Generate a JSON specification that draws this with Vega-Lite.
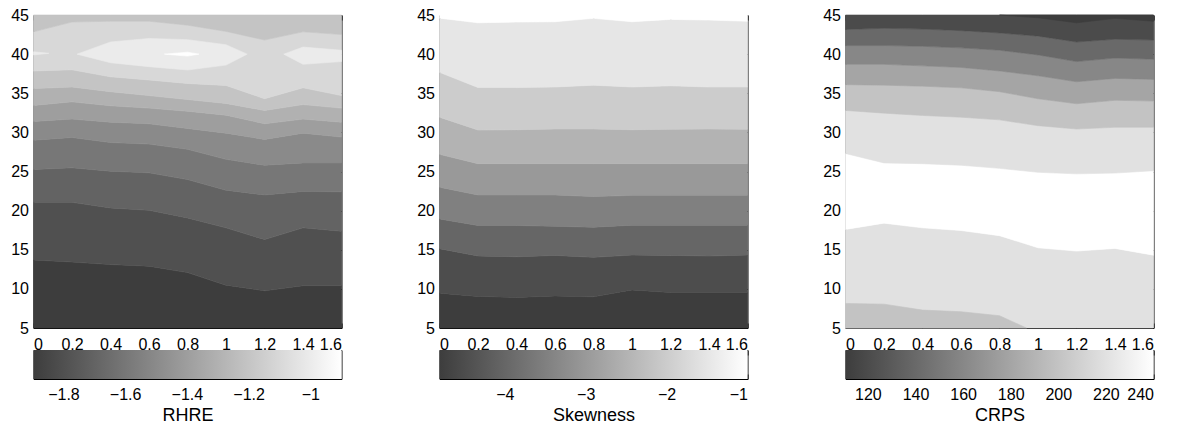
{
  "$schema": "https://vega.github.io/schema/vega-lite/v6.json",
  "padding": {"left": 9.5, "top": 6, "right": 5, "bottom": 2},
  "datasets": {
    "rhre": [
      {"b":"a1","k":"base","v":-1.897,"x":0,"lo":5,"hi":13.69},{"b":"a1","k":"base","v":-1.897,"x":0.2,"lo":5,"hi":13.43},{"b":"a1","k":"base","v":-1.897,"x":0.4,"lo":5,"hi":13.1},{"b":"a1","k":"base","v":-1.897,"x":0.6,"lo":5,"hi":12.9},{"b":"a1","k":"base","v":-1.897,"x":0.8,"lo":5,"hi":12.08},{"b":"a1","k":"base","v":-1.897,"x":1,"lo":5,"hi":10.47},{"b":"a1","k":"base","v":-1.897,"x":1.2,"lo":5,"hi":9.75},{"b":"a1","k":"base","v":-1.897,"x":1.4,"lo":5,"hi":10.4},{"b":"a1","k":"base","v":-1.897,"x":1.6,"lo":5,"hi":10.4},
      {"b":"a2","k":"base","v":-1.8,"x":0,"lo":13.69,"hi":21.06},{"b":"a2","k":"base","v":-1.8,"x":0.2,"lo":13.43,"hi":21.06},{"b":"a2","k":"base","v":-1.8,"x":0.4,"lo":13.1,"hi":20.34},{"b":"a2","k":"base","v":-1.8,"x":0.6,"lo":12.9,"hi":20.04},{"b":"a2","k":"base","v":-1.8,"x":0.8,"lo":12.08,"hi":19.07},{"b":"a2","k":"base","v":-1.8,"x":1,"lo":10.47,"hi":17.8},{"b":"a2","k":"base","v":-1.8,"x":1.2,"lo":9.75,"hi":16.3},{"b":"a2","k":"base","v":-1.8,"x":1.4,"lo":10.4,"hi":17.8},{"b":"a2","k":"base","v":-1.8,"x":1.6,"lo":10.4,"hi":17.37},
      {"b":"a3","k":"base","v":-1.7,"x":0,"lo":21.06,"hi":25.26},{"b":"a3","k":"base","v":-1.7,"x":0.2,"lo":21.06,"hi":25.47},{"b":"a3","k":"base","v":-1.7,"x":0.4,"lo":20.34,"hi":25.04},{"b":"a3","k":"base","v":-1.7,"x":0.6,"lo":20.04,"hi":24.83},{"b":"a3","k":"base","v":-1.7,"x":0.8,"lo":19.07,"hi":23.97},{"b":"a3","k":"base","v":-1.7,"x":1,"lo":17.8,"hi":22.6},{"b":"a3","k":"base","v":-1.7,"x":1.2,"lo":16.3,"hi":22.0},{"b":"a3","k":"base","v":-1.7,"x":1.4,"lo":17.8,"hi":22.46},{"b":"a3","k":"base","v":-1.7,"x":1.6,"lo":17.37,"hi":22.4},
      {"b":"a4","k":"base","v":-1.6,"x":0,"lo":25.26,"hi":29.0},{"b":"a4","k":"base","v":-1.6,"x":0.2,"lo":25.47,"hi":29.35},{"b":"a4","k":"base","v":-1.6,"x":0.4,"lo":25.04,"hi":28.7},{"b":"a4","k":"base","v":-1.6,"x":0.6,"lo":24.83,"hi":28.5},{"b":"a4","k":"base","v":-1.6,"x":0.8,"lo":23.97,"hi":27.84},{"b":"a4","k":"base","v":-1.6,"x":1,"lo":22.6,"hi":26.55},{"b":"a4","k":"base","v":-1.6,"x":1.2,"lo":22.0,"hi":25.8},{"b":"a4","k":"base","v":-1.6,"x":1.4,"lo":22.46,"hi":26.1},{"b":"a4","k":"base","v":-1.6,"x":1.6,"lo":22.4,"hi":26.1},
      {"b":"a5","k":"base","v":-1.5,"x":0,"lo":29.0,"hi":31.4},{"b":"a5","k":"base","v":-1.5,"x":0.2,"lo":29.35,"hi":31.7},{"b":"a5","k":"base","v":-1.5,"x":0.4,"lo":28.7,"hi":31.3},{"b":"a5","k":"base","v":-1.5,"x":0.6,"lo":28.5,"hi":31.1},{"b":"a5","k":"base","v":-1.5,"x":0.8,"lo":27.84,"hi":30.5},{"b":"a5","k":"base","v":-1.5,"x":1,"lo":26.55,"hi":29.9},{"b":"a5","k":"base","v":-1.5,"x":1.2,"lo":25.8,"hi":29.1},{"b":"a5","k":"base","v":-1.5,"x":1.4,"lo":26.1,"hi":29.9},{"b":"a5","k":"base","v":-1.5,"x":1.6,"lo":26.1,"hi":29.4},
      {"b":"a6","k":"base","v":-1.4,"x":0,"lo":31.4,"hi":33.45},{"b":"a6","k":"base","v":-1.4,"x":0.2,"lo":31.7,"hi":33.9},{"b":"a6","k":"base","v":-1.4,"x":0.4,"lo":31.3,"hi":33.4},{"b":"a6","k":"base","v":-1.4,"x":0.6,"lo":31.1,"hi":33.1},{"b":"a6","k":"base","v":-1.4,"x":0.8,"lo":30.5,"hi":32.7},{"b":"a6","k":"base","v":-1.4,"x":1,"lo":29.9,"hi":32.2},{"b":"a6","k":"base","v":-1.4,"x":1.2,"lo":29.1,"hi":31.1},{"b":"a6","k":"base","v":-1.4,"x":1.4,"lo":29.9,"hi":31.7},{"b":"a6","k":"base","v":-1.4,"x":1.6,"lo":29.4,"hi":31.3},
      {"b":"a7","k":"base","v":-1.3,"x":0,"lo":33.45,"hi":35.6},{"b":"a7","k":"base","v":-1.3,"x":0.2,"lo":33.9,"hi":35.8},{"b":"a7","k":"base","v":-1.3,"x":0.4,"lo":33.4,"hi":35.2},{"b":"a7","k":"base","v":-1.3,"x":0.6,"lo":33.1,"hi":34.7},{"b":"a7","k":"base","v":-1.3,"x":0.8,"lo":32.7,"hi":34.2},{"b":"a7","k":"base","v":-1.3,"x":1,"lo":32.2,"hi":33.7},{"b":"a7","k":"base","v":-1.3,"x":1.2,"lo":31.1,"hi":32.8},{"b":"a7","k":"base","v":-1.3,"x":1.4,"lo":31.7,"hi":33.55},{"b":"a7","k":"base","v":-1.3,"x":1.6,"lo":31.3,"hi":33.1},
      {"b":"a8","k":"base","v":-1.2,"x":0,"lo":35.6,"hi":37.85},{"b":"a8","k":"base","v":-1.2,"x":0.2,"lo":35.8,"hi":38.0},{"b":"a8","k":"base","v":-1.2,"x":0.4,"lo":35.2,"hi":37.1},{"b":"a8","k":"base","v":-1.2,"x":0.6,"lo":34.7,"hi":36.7},{"b":"a8","k":"base","v":-1.2,"x":0.8,"lo":34.2,"hi":36.25},{"b":"a8","k":"base","v":-1.2,"x":1,"lo":33.7,"hi":36.0},{"b":"a8","k":"base","v":-1.2,"x":1.2,"lo":32.8,"hi":34.3},{"b":"a8","k":"base","v":-1.2,"x":1.4,"lo":33.55,"hi":35.7},{"b":"a8","k":"base","v":-1.2,"x":1.6,"lo":33.1,"hi":34.7},
      {"b":"a9","k":"base","v":-1.1,"x":0,"lo":37.85,"hi":42.85},{"b":"a9","k":"base","v":-1.1,"x":0.2,"lo":38.0,"hi":44.1},{"b":"a9","k":"base","v":-1.1,"x":0.4,"lo":37.1,"hi":44.2},{"b":"a9","k":"base","v":-1.1,"x":0.6,"lo":36.7,"hi":44.2},{"b":"a9","k":"base","v":-1.1,"x":0.8,"lo":36.25,"hi":43.7},{"b":"a9","k":"base","v":-1.1,"x":1,"lo":36.0,"hi":42.9},{"b":"a9","k":"base","v":-1.1,"x":1.2,"lo":34.3,"hi":41.8},{"b":"a9","k":"base","v":-1.1,"x":1.4,"lo":35.7,"hi":42.85},{"b":"a9","k":"base","v":-1.1,"x":1.6,"lo":34.7,"hi":42.5},
      {"b":"a10","k":"base","v":-1.2,"x":0,"lo":42.85,"hi":45},{"b":"a10","k":"base","v":-1.2,"x":0.2,"lo":44.1,"hi":45},{"b":"a10","k":"base","v":-1.2,"x":0.4,"lo":44.2,"hi":45},{"b":"a10","k":"base","v":-1.2,"x":0.6,"lo":44.2,"hi":45},{"b":"a10","k":"base","v":-1.2,"x":0.8,"lo":43.7,"hi":45},{"b":"a10","k":"base","v":-1.2,"x":1,"lo":42.9,"hi":45},{"b":"a10","k":"base","v":-1.2,"x":1.2,"lo":41.8,"hi":45},{"b":"a10","k":"base","v":-1.2,"x":1.4,"lo":42.85,"hi":45},{"b":"a10","k":"base","v":-1.2,"x":1.6,"lo":42.5,"hi":45},
      {"b":"o1","k":"over","v":-1.0,"x":0,"lo":39.9,"hi":40.3},{"b":"o1","k":"over","v":-1.0,"x":0.08,"lo":40.1,"hi":40.1},
      {"b":"o2","k":"over","v":-1.0,"x":0.226,"lo":40,"hi":40},{"b":"o2","k":"over","v":-1.0,"x":0.4,"lo":38.9,"hi":41.55},{"b":"o2","k":"over","v":-1.0,"x":0.6,"lo":38.4,"hi":42.0},{"b":"o2","k":"over","v":-1.0,"x":0.8,"lo":37.97,"hi":41.85},{"b":"o2","k":"over","v":-1.0,"x":1,"lo":38.6,"hi":41.2},{"b":"o2","k":"over","v":-1.0,"x":1.11,"lo":40,"hi":40},
      {"b":"o3","k":"over","v":-1.0,"x":1.3,"lo":40,"hi":40},{"b":"o3","k":"over","v":-1.0,"x":1.4,"lo":38.7,"hi":40.9},{"b":"o3","k":"over","v":-1.0,"x":1.6,"lo":39.05,"hi":40.5},
      {"b":"t1","k":"top","v":-0.9,"x":0.68,"lo":40,"hi":40},{"b":"t1","k":"top","v":-0.9,"x":0.8,"lo":39.75,"hi":40.25},{"b":"t1","k":"top","v":-0.9,"x":0.86,"lo":40,"hi":40}
    ],
    "skew": [
      {"b":"s1","k":"base","v":-4.808,"x":0,"lo":5,"hi":9.45},{"b":"s1","k":"base","v":-4.808,"x":0.2,"lo":5,"hi":9.03},{"b":"s1","k":"base","v":-4.808,"x":0.4,"lo":5,"hi":8.9},{"b":"s1","k":"base","v":-4.808,"x":0.6,"lo":5,"hi":9.1},{"b":"s1","k":"base","v":-4.808,"x":0.8,"lo":5,"hi":8.98},{"b":"s1","k":"base","v":-4.808,"x":1,"lo":5,"hi":9.87},{"b":"s1","k":"base","v":-4.808,"x":1.2,"lo":5,"hi":9.53},{"b":"s1","k":"base","v":-4.808,"x":1.4,"lo":5,"hi":9.53},{"b":"s1","k":"base","v":-4.808,"x":1.6,"lo":5,"hi":9.53},
      {"b":"s2","k":"base","v":-4.5,"x":0,"lo":9.45,"hi":15.13},{"b":"s2","k":"base","v":-4.5,"x":0.2,"lo":9.03,"hi":14.2},{"b":"s2","k":"base","v":-4.5,"x":0.4,"lo":8.9,"hi":14.1},{"b":"s2","k":"base","v":-4.5,"x":0.6,"lo":9.1,"hi":14.28},{"b":"s2","k":"base","v":-4.5,"x":0.8,"lo":8.98,"hi":14.03},{"b":"s2","k":"base","v":-4.5,"x":1,"lo":9.87,"hi":14.32},{"b":"s2","k":"base","v":-4.5,"x":1.2,"lo":9.53,"hi":14.28},{"b":"s2","k":"base","v":-4.5,"x":1.4,"lo":9.53,"hi":14.2},{"b":"s2","k":"base","v":-4.5,"x":1.6,"lo":9.53,"hi":14.32},
      {"b":"s3","k":"base","v":-4,"x":0,"lo":15.13,"hi":18.94},{"b":"s3","k":"base","v":-4,"x":0.2,"lo":14.2,"hi":18.1},{"b":"s3","k":"base","v":-4,"x":0.4,"lo":14.1,"hi":18.1},{"b":"s3","k":"base","v":-4,"x":0.6,"lo":14.28,"hi":18.0},{"b":"s3","k":"base","v":-4,"x":0.8,"lo":14.03,"hi":17.88},{"b":"s3","k":"base","v":-4,"x":1,"lo":14.32,"hi":18.14},{"b":"s3","k":"base","v":-4,"x":1.2,"lo":14.28,"hi":18.14},{"b":"s3","k":"base","v":-4,"x":1.4,"lo":14.2,"hi":18.14},{"b":"s3","k":"base","v":-4,"x":1.6,"lo":14.32,"hi":18.14},
      {"b":"s4","k":"base","v":-3.5,"x":0,"lo":18.94,"hi":23.0},{"b":"s4","k":"base","v":-3.5,"x":0.2,"lo":18.1,"hi":22.0},{"b":"s4","k":"base","v":-3.5,"x":0.4,"lo":18.1,"hi":22.0},{"b":"s4","k":"base","v":-3.5,"x":0.6,"lo":18.0,"hi":22.0},{"b":"s4","k":"base","v":-3.5,"x":0.8,"lo":17.88,"hi":21.8},{"b":"s4","k":"base","v":-3.5,"x":1,"lo":18.14,"hi":21.95},{"b":"s4","k":"base","v":-3.5,"x":1.2,"lo":18.14,"hi":21.95},{"b":"s4","k":"base","v":-3.5,"x":1.4,"lo":18.14,"hi":21.95},{"b":"s4","k":"base","v":-3.5,"x":1.6,"lo":18.14,"hi":21.95},
      {"b":"s5","k":"base","v":-3,"x":0,"lo":23.0,"hi":27.2},{"b":"s5","k":"base","v":-3,"x":0.2,"lo":22.0,"hi":26.0},{"b":"s5","k":"base","v":-3,"x":0.4,"lo":22.0,"hi":26.0},{"b":"s5","k":"base","v":-3,"x":0.6,"lo":22.0,"hi":26.0},{"b":"s5","k":"base","v":-3,"x":0.8,"lo":21.8,"hi":26.0},{"b":"s5","k":"base","v":-3,"x":1,"lo":21.95,"hi":26.0},{"b":"s5","k":"base","v":-3,"x":1.2,"lo":21.95,"hi":26.0},{"b":"s5","k":"base","v":-3,"x":1.4,"lo":21.95,"hi":26.0},{"b":"s5","k":"base","v":-3,"x":1.6,"lo":21.95,"hi":26.0},
      {"b":"s6","k":"base","v":-2.5,"x":0,"lo":27.2,"hi":31.94},{"b":"s6","k":"base","v":-2.5,"x":0.2,"lo":26.0,"hi":30.3},{"b":"s6","k":"base","v":-2.5,"x":0.4,"lo":26.0,"hi":30.34},{"b":"s6","k":"base","v":-2.5,"x":0.6,"lo":26.0,"hi":30.43},{"b":"s6","k":"base","v":-2.5,"x":0.8,"lo":26.0,"hi":30.43},{"b":"s6","k":"base","v":-2.5,"x":1,"lo":26.0,"hi":30.34},{"b":"s6","k":"base","v":-2.5,"x":1.2,"lo":26.0,"hi":30.4},{"b":"s6","k":"base","v":-2.5,"x":1.4,"lo":26.0,"hi":30.43},{"b":"s6","k":"base","v":-2.5,"x":1.6,"lo":26.0,"hi":30.4},
      {"b":"s7","k":"base","v":-2,"x":0,"lo":31.94,"hi":37.67},{"b":"s7","k":"base","v":-2,"x":0.2,"lo":30.3,"hi":35.73},{"b":"s7","k":"base","v":-2,"x":0.4,"lo":30.34,"hi":35.73},{"b":"s7","k":"base","v":-2,"x":0.6,"lo":30.43,"hi":35.8},{"b":"s7","k":"base","v":-2,"x":0.8,"lo":30.43,"hi":36.03},{"b":"s7","k":"base","v":-2,"x":1,"lo":30.34,"hi":35.8},{"b":"s7","k":"base","v":-2,"x":1.2,"lo":30.4,"hi":35.95},{"b":"s7","k":"base","v":-2,"x":1.4,"lo":30.43,"hi":35.8},{"b":"s7","k":"base","v":-2,"x":1.6,"lo":30.4,"hi":35.8},
      {"b":"s8","k":"base","v":-1.5,"x":0,"lo":37.67,"hi":44.6},{"b":"s8","k":"base","v":-1.5,"x":0.2,"lo":35.73,"hi":44.0},{"b":"s8","k":"base","v":-1.5,"x":0.4,"lo":35.73,"hi":44.1},{"b":"s8","k":"base","v":-1.5,"x":0.6,"lo":35.8,"hi":44.14},{"b":"s8","k":"base","v":-1.5,"x":0.8,"lo":36.03,"hi":44.57},{"b":"s8","k":"base","v":-1.5,"x":1,"lo":35.8,"hi":44.14},{"b":"s8","k":"base","v":-1.5,"x":1.2,"lo":35.95,"hi":44.44},{"b":"s8","k":"base","v":-1.5,"x":1.4,"lo":35.8,"hi":44.35},{"b":"s8","k":"base","v":-1.5,"x":1.6,"lo":35.8,"hi":44.2},
      {"b":"s9","k":"over","v":-1,"x":0,"lo":44.6,"hi":45},{"b":"s9","k":"over","v":-1,"x":0.2,"lo":44.0,"hi":45},{"b":"s9","k":"over","v":-1,"x":0.4,"lo":44.1,"hi":45},{"b":"s9","k":"over","v":-1,"x":0.6,"lo":44.14,"hi":45},{"b":"s9","k":"over","v":-1,"x":0.8,"lo":44.57,"hi":45},{"b":"s9","k":"over","v":-1,"x":1,"lo":44.14,"hi":45},{"b":"s9","k":"over","v":-1,"x":1.2,"lo":44.44,"hi":45},{"b":"s9","k":"over","v":-1,"x":1.4,"lo":44.35,"hi":45},{"b":"s9","k":"over","v":-1,"x":1.6,"lo":44.2,"hi":45}
    ],
    "crps": [
      {"b":"c1","k":"base","v":220,"x":0,"lo":5,"hi":17.6},{"b":"c1","k":"base","v":220,"x":0.2,"lo":5,"hi":18.4},{"b":"c1","k":"base","v":220,"x":0.4,"lo":5,"hi":17.8},{"b":"c1","k":"base","v":220,"x":0.6,"lo":5,"hi":17.46},{"b":"c1","k":"base","v":220,"x":0.8,"lo":5,"hi":16.8},{"b":"c1","k":"base","v":220,"x":1,"lo":5,"hi":15.25},{"b":"c1","k":"base","v":220,"x":1.2,"lo":5,"hi":14.83},{"b":"c1","k":"base","v":220,"x":1.4,"lo":5,"hi":15.17},{"b":"c1","k":"base","v":220,"x":1.6,"lo":5,"hi":14.3},
      {"b":"c2","k":"base","v":240,"x":0,"lo":17.6,"hi":27.3},{"b":"c2","k":"base","v":240,"x":0.2,"lo":18.4,"hi":26.1},{"b":"c2","k":"base","v":240,"x":0.4,"lo":17.8,"hi":26.0},{"b":"c2","k":"base","v":240,"x":0.6,"lo":17.46,"hi":25.8},{"b":"c2","k":"base","v":240,"x":0.8,"lo":16.8,"hi":25.4},{"b":"c2","k":"base","v":240,"x":1,"lo":15.25,"hi":24.9},{"b":"c2","k":"base","v":240,"x":1.2,"lo":14.83,"hi":24.7},{"b":"c2","k":"base","v":240,"x":1.4,"lo":15.17,"hi":24.8},{"b":"c2","k":"base","v":240,"x":1.6,"lo":14.3,"hi":25.1},
      {"b":"c3","k":"base","v":220,"x":0,"lo":27.3,"hi":32.8},{"b":"c3","k":"base","v":220,"x":0.2,"lo":26.1,"hi":32.46},{"b":"c3","k":"base","v":220,"x":0.4,"lo":26.0,"hi":32.16},{"b":"c3","k":"base","v":220,"x":0.6,"lo":25.8,"hi":31.94},{"b":"c3","k":"base","v":220,"x":0.8,"lo":25.4,"hi":31.6},{"b":"c3","k":"base","v":220,"x":1,"lo":24.9,"hi":30.86},{"b":"c3","k":"base","v":220,"x":1.2,"lo":24.7,"hi":30.43},{"b":"c3","k":"base","v":220,"x":1.4,"lo":24.8,"hi":30.65},{"b":"c3","k":"base","v":220,"x":1.6,"lo":25.1,"hi":30.65},
      {"b":"c4","k":"base","v":200,"x":0,"lo":32.8,"hi":36.1},{"b":"c4","k":"base","v":200,"x":0.2,"lo":32.46,"hi":36.03},{"b":"c4","k":"base","v":200,"x":0.4,"lo":32.16,"hi":35.9},{"b":"c4","k":"base","v":200,"x":0.6,"lo":31.94,"hi":35.7},{"b":"c4","k":"base","v":200,"x":0.8,"lo":31.6,"hi":35.2},{"b":"c4","k":"base","v":200,"x":1,"lo":30.86,"hi":34.3},{"b":"c4","k":"base","v":200,"x":1.2,"lo":30.43,"hi":33.66},{"b":"c4","k":"base","v":200,"x":1.4,"lo":30.65,"hi":34.1},{"b":"c4","k":"base","v":200,"x":1.6,"lo":30.65,"hi":34.0},
      {"b":"c5","k":"base","v":180,"x":0,"lo":36.1,"hi":38.7},{"b":"c5","k":"base","v":180,"x":0.2,"lo":36.03,"hi":38.7},{"b":"c5","k":"base","v":180,"x":0.4,"lo":35.9,"hi":38.5},{"b":"c5","k":"base","v":180,"x":0.6,"lo":35.7,"hi":38.3},{"b":"c5","k":"base","v":180,"x":0.8,"lo":35.2,"hi":37.85},{"b":"c5","k":"base","v":180,"x":1,"lo":34.3,"hi":37.24},{"b":"c5","k":"base","v":180,"x":1.2,"lo":33.66,"hi":36.47},{"b":"c5","k":"base","v":180,"x":1.4,"lo":34.1,"hi":36.9},{"b":"c5","k":"base","v":180,"x":1.6,"lo":34.0,"hi":36.77},
      {"b":"c6","k":"base","v":160,"x":0,"lo":38.7,"hi":41.1},{"b":"c6","k":"base","v":160,"x":0.2,"lo":38.7,"hi":41.1},{"b":"c6","k":"base","v":160,"x":0.4,"lo":38.5,"hi":41.0},{"b":"c6","k":"base","v":160,"x":0.6,"lo":38.3,"hi":40.8},{"b":"c6","k":"base","v":160,"x":0.8,"lo":37.85,"hi":40.5},{"b":"c6","k":"base","v":160,"x":1,"lo":37.24,"hi":39.9},{"b":"c6","k":"base","v":160,"x":1.2,"lo":36.47,"hi":39.05},{"b":"c6","k":"base","v":160,"x":1.4,"lo":36.9,"hi":39.5},{"b":"c6","k":"base","v":160,"x":1.6,"lo":36.77,"hi":39.35},
      {"b":"c7","k":"base","v":140,"x":0,"lo":41.1,"hi":43.15},{"b":"c7","k":"base","v":140,"x":0.2,"lo":41.1,"hi":43.3},{"b":"c7","k":"base","v":140,"x":0.4,"lo":41.0,"hi":43.2},{"b":"c7","k":"base","v":140,"x":0.6,"lo":40.8,"hi":43.0},{"b":"c7","k":"base","v":140,"x":0.8,"lo":40.5,"hi":42.7},{"b":"c7","k":"base","v":140,"x":1,"lo":39.9,"hi":42.3},{"b":"c7","k":"base","v":140,"x":1.2,"lo":39.05,"hi":41.55},{"b":"c7","k":"base","v":140,"x":1.4,"lo":39.5,"hi":41.9},{"b":"c7","k":"base","v":140,"x":1.6,"lo":39.35,"hi":41.8},
      {"b":"c8","k":"base","v":120,"x":0,"lo":43.15,"hi":45},{"b":"c8","k":"base","v":120,"x":0.2,"lo":43.3,"hi":45},{"b":"c8","k":"base","v":120,"x":0.4,"lo":43.2,"hi":45},{"b":"c8","k":"base","v":120,"x":0.6,"lo":43.0,"hi":45},{"b":"c8","k":"base","v":120,"x":0.8,"lo":42.7,"hi":45},{"b":"c8","k":"base","v":120,"x":1,"lo":42.3,"hi":45},{"b":"c8","k":"base","v":120,"x":1.2,"lo":41.55,"hi":45},{"b":"c8","k":"base","v":120,"x":1.4,"lo":41.9,"hi":45},{"b":"c8","k":"base","v":120,"x":1.6,"lo":41.8,"hi":45},
      {"b":"c9","k":"over","v":110.6,"x":0.8,"lo":45,"hi":45},{"b":"c9","k":"over","v":110.6,"x":1,"lo":44.65,"hi":45},{"b":"c9","k":"over","v":110.6,"x":1.2,"lo":44.0,"hi":45},{"b":"c9","k":"over","v":110.6,"x":1.4,"lo":44.57,"hi":45},{"b":"c9","k":"over","v":110.6,"x":1.6,"lo":44.2,"hi":45},
      {"b":"c10","k":"over","v":200,"x":0,"lo":5,"hi":8.14},{"b":"c10","k":"over","v":200,"x":0.2,"lo":5,"hi":8.05},{"b":"c10","k":"over","v":200,"x":0.4,"lo":5,"hi":7.29},{"b":"c10","k":"over","v":200,"x":0.6,"lo":5,"hi":7.08},{"b":"c10","k":"over","v":200,"x":0.8,"lo":5,"hi":6.57},{"b":"c10","k":"over","v":200,"x":0.94,"lo":5,"hi":5}
    ]
  },
  "hconcat": [
    {
      "vconcat": [
        {
          "width": 308, "height": 313,
          "data": {"name": "rhre"},
          "layer": [
            {
              "transform": [{"filter": "datum.k == 'base'"}],
              "mark": {"type": "area", "strokeWidth": 0.6},
              "encoding": {
                "x": {"field": "x", "type": "quantitative", "scale": {"domain": [0, 1.6], "nice": false, "zero": false}, "axis": {"orient": "bottom", "title": null, "values": [0,0.2,0.4,0.6,0.8,1,1.2,1.4,1.6], "format": "~f", "labelPadding": 13.5}},
                "y": {"field": "lo", "type": "quantitative", "stack": null, "scale": {"domain": [5, 45], "nice": false, "zero": false}, "axis": {"orient": "left", "title": null, "values": [5,10,15,20,25,30,35,40,45], "labelPadding": 10}},
                "y2": {"field": "hi"},
                "color": {"field": "v", "type": "quantitative", "scale": {"domain": [-1.897, -0.899], "range": ["#3d3d3d", "#ffffff"], "interpolate": "rgb"}, "legend": null},
                "stroke": {"field": "v", "type": "quantitative", "scale": {"domain": [-1.897, -0.899], "range": ["#3d3d3d", "#ffffff"], "interpolate": "rgb"}, "legend": null},
                "detail": {"field": "b"}
              }
            },
            {
              "transform": [{"filter": "datum.k == 'over'"}],
              "mark": {"type": "area", "strokeWidth": 0.6},
              "encoding": {
                "x": {"field": "x", "type": "quantitative", "scale": {"domain": [0, 1.6], "nice": false, "zero": false}, "axis": {"orient": "top", "title": null, "values": [0,0.2,0.4,0.6,0.8,1,1.2,1.4,1.6], "labels": false}},
                "y": {"field": "lo", "type": "quantitative", "stack": null, "scale": {"domain": [5, 45], "nice": false, "zero": false}, "axis": {"orient": "right", "title": null, "values": [5,10,15,20,25,30,35,40,45], "labels": false}},
                "y2": {"field": "hi"},
                "color": {"field": "v", "type": "quantitative", "legend": null},
                "stroke": {"field": "v", "type": "quantitative", "legend": null},
                "detail": {"field": "b"}
              }
            },
            {
              "transform": [{"filter": "datum.k == 'top'"}],
              "mark": {"type": "area", "strokeWidth": 0.6},
              "encoding": {
                "x": {"field": "x", "type": "quantitative", "axis": null},
                "y": {"field": "lo", "type": "quantitative", "stack": null, "axis": null},
                "y2": {"field": "hi"},
                "color": {"field": "v", "type": "quantitative", "legend": null},
                "stroke": {"field": "v", "type": "quantitative", "legend": null},
                "detail": {"field": "b"}
              }
            }
          ],
          "resolve": {"axis": {"x": "independent", "y": "independent"}}
        },
        {
          "width": 308, "height": 29,
          "data": {"values": [{"bar": "RHRE"}]},
          "layer": [
            {
              "mark": {"type": "rect", "fill": {"gradient": "linear", "x1": 0, "y1": 0, "x2": 1, "y2": 0, "stops": [{"offset": 0, "color": "#3d3d3d"}, {"offset": 1, "color": "#ffffff"}]}},
              "encoding": {
                "x": {"datum": -1.897, "type": "quantitative", "scale": {"domain": [-1.897, -0.899], "nice": false, "zero": false}, "axis": {"orient": "bottom", "title": "RHRE", "values": [-1.8,-1.6,-1.4,-1.2,-1], "format": "~f", "labelPadding": 12.8, "titlePadding": 3.2}},
                "x2": {"datum": -0.899},
                "y": {"datum": 0, "type": "quantitative", "scale": {"domain": [0, 1], "nice": false}, "axis": null},
                "y2": {"datum": 1}
              }
            },
            {
              "mark": {"type": "rect", "opacity": 0},
              "encoding": {
                "x": {"datum": -1.897, "type": "quantitative", "axis": {"orient": "top", "title": null, "values": [-1.8,-1.6,-1.4,-1.2,-1], "labels": false}},
                "x2": {"datum": -0.899},
                "y": {"datum": 0, "type": "quantitative", "axis": null},
                "y2": {"datum": 1}
              }
            }
          ],
          "resolve": {"axis": {"x": "independent"}}
        }
      ],
      "spacing": 22,
      "bounds": "flush",
      "resolve": {"scale": {"x": "independent", "y": "independent", "color": "independent", "stroke": "independent"}}
    },
    {
      "vconcat": [
        {
          "width": 308, "height": 313,
          "data": {"name": "skew"},
          "layer": [
            {
              "transform": [{"filter": "datum.k == 'base'"}],
              "mark": {"type": "area", "strokeWidth": 0.6},
              "encoding": {
                "x": {"field": "x", "type": "quantitative", "scale": {"domain": [0, 1.6], "nice": false, "zero": false}, "axis": {"orient": "bottom", "title": null, "values": [0,0.2,0.4,0.6,0.8,1,1.2,1.4,1.6], "format": "~f", "labelPadding": 13.5}},
                "y": {"field": "lo", "type": "quantitative", "stack": null, "scale": {"domain": [5, 45], "nice": false, "zero": false}, "axis": {"orient": "left", "title": null, "values": [5,10,15,20,25,30,35,40,45], "labelPadding": 10}},
                "y2": {"field": "hi"},
                "color": {"field": "v", "type": "quantitative", "scale": {"domain": [-4.808, -1.0], "range": ["#3d3d3d", "#ffffff"], "interpolate": "rgb"}, "legend": null},
                "stroke": {"field": "v", "type": "quantitative", "scale": {"domain": [-4.808, -1.0], "range": ["#3d3d3d", "#ffffff"], "interpolate": "rgb"}, "legend": null},
                "detail": {"field": "b"}
              }
            },
            {
              "transform": [{"filter": "datum.k == 'over'"}],
              "mark": {"type": "area", "strokeWidth": 0.6},
              "encoding": {
                "x": {"field": "x", "type": "quantitative", "scale": {"domain": [0, 1.6], "nice": false, "zero": false}, "axis": {"orient": "top", "title": null, "values": [0,0.2,0.4,0.6,0.8,1,1.2,1.4,1.6], "labels": false}},
                "y": {"field": "lo", "type": "quantitative", "stack": null, "scale": {"domain": [5, 45], "nice": false, "zero": false}, "axis": {"orient": "right", "title": null, "values": [5,10,15,20,25,30,35,40,45], "labels": false}},
                "y2": {"field": "hi"},
                "color": {"field": "v", "type": "quantitative", "legend": null},
                "stroke": {"field": "v", "type": "quantitative", "legend": null},
                "detail": {"field": "b"}
              }
            }
          ],
          "resolve": {"axis": {"x": "independent", "y": "independent"}}
        },
        {
          "width": 308, "height": 29,
          "data": {"values": [{"bar": "Skewness"}]},
          "layer": [
            {
              "mark": {"type": "rect", "fill": {"gradient": "linear", "x1": 0, "y1": 0, "x2": 1, "y2": 0, "stops": [{"offset": 0, "color": "#3d3d3d"}, {"offset": 1, "color": "#ffffff"}]}},
              "encoding": {
                "x": {"datum": -4.808, "type": "quantitative", "scale": {"domain": [-4.808, -1.0], "nice": false, "zero": false}, "axis": {"orient": "bottom", "title": "Skewness", "values": [-4,-3,-2,-1], "format": "~f", "labelPadding": 12.8, "titlePadding": 3.2}},
                "x2": {"datum": -1.0},
                "y": {"datum": 0, "type": "quantitative", "scale": {"domain": [0, 1], "nice": false}, "axis": null},
                "y2": {"datum": 1}
              }
            },
            {
              "mark": {"type": "rect", "opacity": 0},
              "encoding": {
                "x": {"datum": -4.808, "type": "quantitative", "axis": {"orient": "top", "title": null, "values": [-4,-3,-2,-1], "labels": false}},
                "x2": {"datum": -1.0},
                "y": {"datum": 0, "type": "quantitative", "axis": null},
                "y2": {"datum": 1}
              }
            }
          ],
          "resolve": {"axis": {"x": "independent"}}
        }
      ],
      "spacing": 22,
      "bounds": "flush",
      "resolve": {"scale": {"x": "independent", "y": "independent", "color": "independent", "stroke": "independent"}}
    },
    {
      "vconcat": [
        {
          "width": 308, "height": 313,
          "data": {"name": "crps"},
          "layer": [
            {
              "transform": [{"filter": "datum.k == 'base'"}],
              "mark": {"type": "area", "strokeWidth": 0.6},
              "encoding": {
                "x": {"field": "x", "type": "quantitative", "scale": {"domain": [0, 1.6], "nice": false, "zero": false}, "axis": {"orient": "bottom", "title": null, "values": [0,0.2,0.4,0.6,0.8,1,1.2,1.4,1.6], "format": "~f", "labelPadding": 13.5}},
                "y": {"field": "lo", "type": "quantitative", "stack": null, "scale": {"domain": [5, 45], "nice": false, "zero": false}, "axis": {"orient": "left", "title": null, "values": [5,10,15,20,25,30,35,40,45], "labelPadding": 10}},
                "y2": {"field": "hi"},
                "color": {"field": "v", "type": "quantitative", "scale": {"domain": [110.6, 240], "range": ["#3d3d3d", "#ffffff"], "interpolate": "rgb"}, "legend": null},
                "stroke": {"field": "v", "type": "quantitative", "scale": {"domain": [110.6, 240], "range": ["#3d3d3d", "#ffffff"], "interpolate": "rgb"}, "legend": null},
                "detail": {"field": "b"}
              }
            },
            {
              "transform": [{"filter": "datum.k == 'over'"}],
              "mark": {"type": "area", "strokeWidth": 0.6},
              "encoding": {
                "x": {"field": "x", "type": "quantitative", "scale": {"domain": [0, 1.6], "nice": false, "zero": false}, "axis": {"orient": "top", "title": null, "values": [0,0.2,0.4,0.6,0.8,1,1.2,1.4,1.6], "labels": false}},
                "y": {"field": "lo", "type": "quantitative", "stack": null, "scale": {"domain": [5, 45], "nice": false, "zero": false}, "axis": {"orient": "right", "title": null, "values": [5,10,15,20,25,30,35,40,45], "labels": false}},
                "y2": {"field": "hi"},
                "color": {"field": "v", "type": "quantitative", "legend": null},
                "stroke": {"field": "v", "type": "quantitative", "legend": null},
                "detail": {"field": "b"}
              }
            }
          ],
          "resolve": {"axis": {"x": "independent", "y": "independent"}}
        },
        {
          "width": 308, "height": 29,
          "data": {"values": [{"bar": "CRPS"}]},
          "layer": [
            {
              "mark": {"type": "rect", "fill": {"gradient": "linear", "x1": 0, "y1": 0, "x2": 1, "y2": 0, "stops": [{"offset": 0, "color": "#3d3d3d"}, {"offset": 1, "color": "#ffffff"}]}},
              "encoding": {
                "x": {"datum": 110.6, "type": "quantitative", "scale": {"domain": [110.6, 240], "nice": false, "zero": false}, "axis": {"orient": "bottom", "title": "CRPS", "values": [120,140,160,180,200,220,240], "format": "~f", "labelPadding": 12.8, "titlePadding": 3.2}},
                "x2": {"datum": 240},
                "y": {"datum": 0, "type": "quantitative", "scale": {"domain": [0, 1], "nice": false}, "axis": null},
                "y2": {"datum": 1}
              }
            },
            {
              "mark": {"type": "rect", "opacity": 0},
              "encoding": {
                "x": {"datum": 110.6, "type": "quantitative", "axis": {"orient": "top", "title": null, "values": [120,140,160,180,200,220,240], "labels": false}},
                "x2": {"datum": 240},
                "y": {"datum": 0, "type": "quantitative", "axis": null},
                "y2": {"datum": 1}
              }
            }
          ],
          "resolve": {"axis": {"x": "independent"}}
        }
      ],
      "spacing": 22,
      "bounds": "flush",
      "resolve": {"scale": {"x": "independent", "y": "independent", "color": "independent", "stroke": "independent"}}
    }
  ],
  "spacing": 72,
  "resolve": {"scale": {"x": "independent", "y": "independent", "color": "independent", "stroke": "independent"}},
  "config": {
    "background": "#ffffff",
    "view": {"stroke": "#000000", "strokeWidth": 1},
    "axis": {
      "domain": false,
      "grid": false,
      "tickSize": -5,
      "tickColor": "#000000",
      "tickWidth": 1,
      "labelFont": "Liberation Sans",
      "labelFontSize": 16,
      "labelColor": "#000000",
      "titleFont": "Liberation Sans",
      "titleFontSize": 18,
      "titleFontWeight": "normal",
      "titleColor": "#000000"
    }
  }
}
